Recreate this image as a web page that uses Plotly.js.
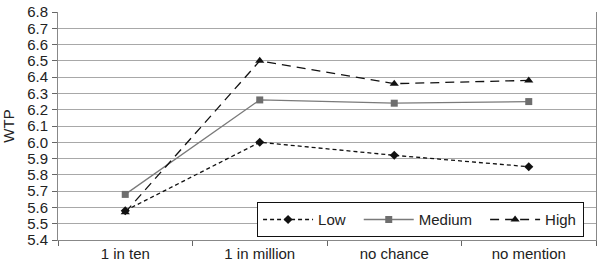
<!DOCTYPE html>
<html><head><meta charset="utf-8">
<script src="https://cdn.plot.ly/plotly-3.0.1.min.js"></script>
<style>html,body{margin:0;padding:0;background:#fff}#c{width:602px;height:269px}</style>
</head><body><div id="c"></div>
<script>
const categories = ["1 in ten", "1 in million", "no chance", "no mention"];
const lowValues = [5.58, 6.00, 5.92, 5.85];
const mediumValues = [5.68, 6.26, 6.24, 6.25];
const highValues = [5.57, 6.50, 6.36, 6.38];
const seriesNames = ["Low", "Medium", "High"];

const traces = [
  {x: categories, y: lowValues, name: seriesNames[0], type: "scatter", mode: "lines+markers",
   line: {color: "#111", width: 1.3, dash: "4px,3px"}, marker: {symbol: "diamond", size: 7, color: "#111"}},
  {x: categories, y: mediumValues, name: seriesNames[1], type: "scatter", mode: "lines+markers",
   line: {color: "#7a7a7a", width: 1.3}, marker: {symbol: "square", size: 7, color: "#6e6e6e"}},
  {x: categories, y: highValues, name: seriesNames[2], type: "scatter", mode: "lines+markers",
   line: {color: "#111", width: 1.3, dash: "9px,6px"}, marker: {symbol: "triangle-up", size: 8, color: "#111"}}
];

const layout = {
  width: 602, height: 269,
  margin: {l: 58, r: 6, t: 12, b: 29, pad: 0},
  paper_bgcolor: "#fff", plot_bgcolor: "#fff",
  font: {family: "Liberation Sans, Arial, sans-serif", size: 15, color: "#222"},
  showlegend: true,
  legend: {orientation: "h", x: 0.37, y: 0.012, xanchor: "left", yanchor: "bottom",
    bgcolor: "#fff", bordercolor: "#111", borderwidth: 1, font: {size: 15}, itemwidth: 50, tracegroupgap: 0},
  xaxis: {type: "category", range: [-0.5, 3.5], showgrid: false, showline: true, linecolor: "#888", linewidth: 1,
    ticks: "outside", tickson: "boundaries", ticklen: 5, tickcolor: "#666", zeroline: false, fixedrange: true},
  yaxis: {range: [5.4, 6.8], dtick: 0.1, tick0: 5.4, tickformat: ".1f", showgrid: true, gridcolor: "#a8a8a8",
    gridwidth: 1, showline: true, mirror: true, linecolor: "#888", linewidth: 1, ticks: "outside", ticklen: 5,
    tickcolor: "#666", ticklabelstandoff: 1, zeroline: false,
    title: {text: "WTP", standoff: 8, font: {size: 15}}, automargin: false, fixedrange: true}
};

function widenLegend(gd) {
  const extra = [0, 8, 16];
  const added = 18;
  gd.querySelectorAll(".legend g.traces").forEach(function (g, i) {
    const t = g.getAttribute("transform") || "";
    const m = t.match(/translate\(([-\d.]+)[ ,]+([-\d.]+)\)/);
    if (m) g.setAttribute("transform", "translate(" + (parseFloat(m[1]) + (extra[i] || 0)) + "," + m[2] + ")");
  });
  gd.querySelectorAll(".legend rect.bg").forEach(function (r) {
    const w = parseFloat(r.getAttribute("width"));
    if (!isNaN(w)) { r.setAttribute("width", w + added); r.style.width = (w + added) + "px"; }
  });
  gd.querySelectorAll("clipPath[id^='legend'] rect").forEach(function (r) {
    const w = parseFloat(r.getAttribute("width"));
    if (!isNaN(w)) r.setAttribute("width", w + added);
  });
}

Plotly.newPlot("c", traces, layout, {displayModeBar: false, staticPlot: true}).then(function (gd) {
  widenLegend(gd);
});
</script></body></html>
